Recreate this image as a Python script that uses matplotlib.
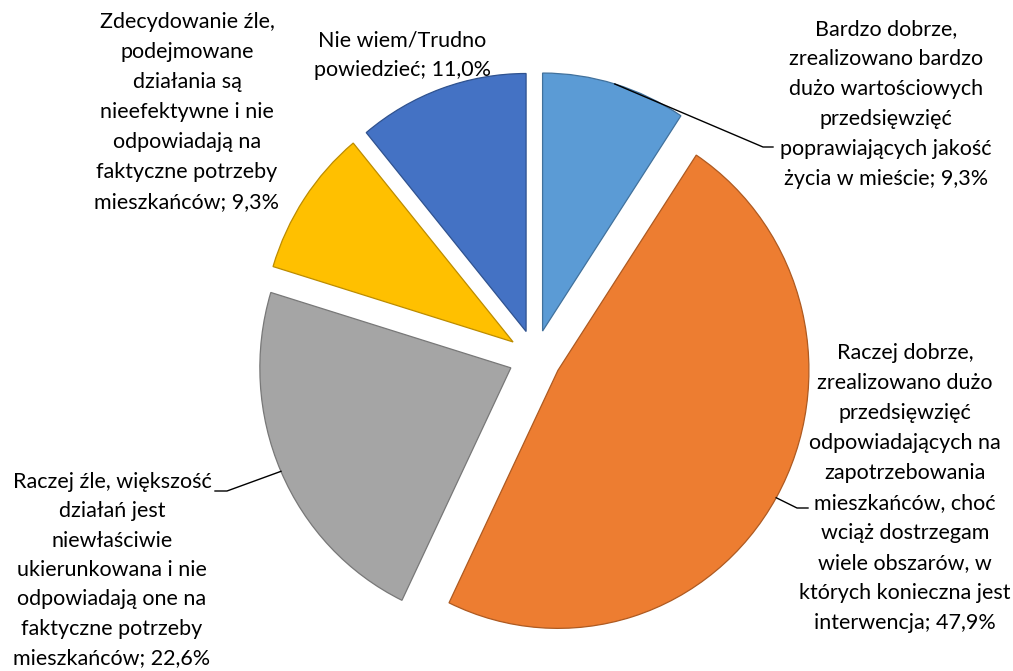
import numpy as np
import matplotlib
matplotlib.use("Agg")
import matplotlib.pyplot as plt

plt.rcParams['font.family'] = ['Lato', 'DejaVu Sans']

# data
labels = [
    "Bardzo dobrze,\nzrealizowano bardzo\ndużo wartościowych\nprzedsięwzięć\npoprawiających jakość\nżycia w mieście; 9,3%",
    "Raczej dobrze,\nzrealizowano dużo\nprzedsięwzięć\nodpowiadających na\nzapotrzebowania\nmieszkańców, choć\nwciąż dostrzegam\nwiele obszarów, w\nktórych konieczna jest\ninterwencja; 47,9%",
    "Raczej źle, większość\ndziałań jest\nniewłaściwie\nukierunkowana i nie\nodpowiadają one na\nfaktyczne potrzeby\nmieszkańców; 22,6%",
    "Zdecydowanie źle,\npodejmowane\ndziałania są\nnieefektywne i nie\nodpowiadają na\nfaktyczne potrzeby\nmieszkańców; 9,3%",
    "Nie wiem/Trudno\npowiedzieć; 11,0%",
]
values = [9.3, 47.9, 22.6, 9.3, 11.0]
colors = ["#5B9BD5", "#ED7D31", "#A5A5A5", "#FFC000", "#4472C4"]
edges = ["#41719C", "#AE5A21", "#787878", "#BC8C00", "#2F528F"]

W, H = 1013, 671
cx, cy, rx, ry = 535, 357, 251, 258


def px(x, y):
    # pixel position -> data coords
    return (x - cx) / rx, (cy - y) / ry


fig = plt.figure(figsize=(W / 100, H / 100), dpi=100)
ax = fig.add_axes([0, 0, 1, 1])

wedges, _ = ax.pie(values, colors=colors, startangle=90, counterclock=False,
                   explode=[0.105] * 5, radius=1,
                   wedgeprops=dict(linewidth=0.9))
for w, ec in zip(wedges, edges):
    w.set_edgecolor(ec)

ax.set_aspect('auto')
ax.set_xlim(-cx / rx, (W - cx) / rx)
ax.set_ylim(-(H - cy) / ry, cy / ry)
ax.axis('off')

# label positions (pixel centre of text block) and line spacing
text_pos = [(886, 104), (905, 488), (112, 570), (187, 112), (402, 55)]
spacing = [1.62, 1.62, 1.58, 1.62, 1.62]
for lab, (tx, ty), ls in zip(labels, text_pos, spacing):
    x, y = px(tx, ty)
    ax.text(x, y, lab, ha='center', va='center', fontsize=15.5,
            linespacing=ls, color='#000000')

# leader lines: from middle of the wedge arc to an elbow next to the label
leaders = {0: [(763, 147), (773, 147)],
           1: [(797, 508), (808, 508)],
           2: [(227, 491), (215, 491)]}
for i, pts in leaders.items():
    w = wedges[i]
    mid = np.deg2rad((w.theta1 + w.theta2) / 2)
    sx = w.center[0] + w.r * np.cos(mid)
    sy = w.center[1] + w.r * np.sin(mid)
    xs = [sx] + [px(*p)[0] for p in pts]
    ys = [sy] + [px(*p)[1] for p in pts]
    ax.plot(xs, ys, color='black', lw=1)

fig.savefig("out.png", dpi=100)
